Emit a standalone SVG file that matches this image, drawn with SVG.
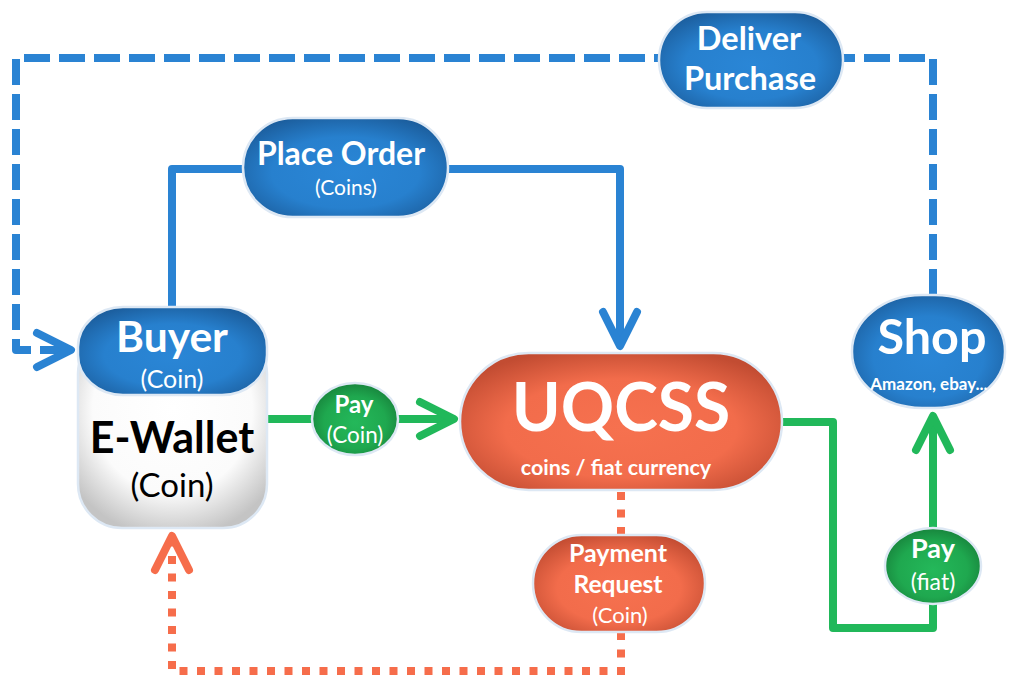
<svg xmlns="http://www.w3.org/2000/svg" width="1009" height="684" viewBox="0 0 1009 684">
<style>
  text { font-family: Lato, "Open Sans", "Liberation Sans", sans-serif; text-anchor: middle; }
  .w { fill: #ffffff; }
  .b { font-weight: bold; }
  .k { fill: #000000; }
  .node { stroke: #dde8f4; stroke-width: 2.5; }
  .cb { fill: none; stroke: #2a83d3; stroke-width: 8; stroke-linejoin: round; }
  .cg { fill: none; stroke: #21b85a; stroke-width: 8; stroke-linejoin: round; }
  .co { fill: none; stroke: #f66d4b; stroke-width: 8; }
</style>
<defs>
  <radialGradient id="gBlue" cx="50%" cy="55%" r="60%">
    <stop offset="0" stop-color="#2a86d6"/>
    <stop offset="0.6" stop-color="#2780ce"/>
    <stop offset="1" stop-color="#1c5f9f"/>
  </radialGradient>
  <radialGradient id="gOrange" cx="50%" cy="55%" r="60%">
    <stop offset="0" stop-color="#f6714f"/>
    <stop offset="0.6" stop-color="#f26c4b"/>
    <stop offset="1" stop-color="#c24c32"/>
  </radialGradient>
  <radialGradient id="gGreen" cx="50%" cy="55%" r="60%">
    <stop offset="0" stop-color="#24b85a"/>
    <stop offset="0.6" stop-color="#1fa84f"/>
    <stop offset="1" stop-color="#167c38"/>
  </radialGradient>
  <radialGradient id="gWhite" cx="50%" cy="40%" r="65%">
    <stop offset="0" stop-color="#ffffff"/>
    <stop offset="0.65" stop-color="#fbfbfb"/>
    <stop offset="1" stop-color="#c4c4c4"/>
  </radialGradient>
  <marker id="arrB" viewBox="-40 -22 46 44" refX="0" refY="0" markerWidth="46" markerHeight="44" orient="auto" markerUnits="userSpaceOnUse">
    <path d="M-34,-17 L0,0 L-34,17" fill="none" stroke="#2a83d3" stroke-width="8" stroke-linecap="round" stroke-linejoin="round"/>
  </marker>
  <marker id="arrG" viewBox="-40 -22 46 44" refX="0" refY="0" markerWidth="46" markerHeight="44" orient="auto" markerUnits="userSpaceOnUse">
    <path d="M-34,-17 L0,0 L-34,17" fill="none" stroke="#21b85a" stroke-width="8" stroke-linecap="round" stroke-linejoin="round"/>
  </marker>
  <marker id="arrO" viewBox="-40 -22 46 44" refX="0" refY="0" markerWidth="46" markerHeight="44" orient="auto" markerUnits="userSpaceOnUse">
    <path d="M-34,-17 L0,0 L-34,17" fill="none" stroke="#f66d4b" stroke-width="8" stroke-linecap="round" stroke-linejoin="round"/>
  </marker>
</defs>

<g id="connectors">
  <path class="cb" d="M933,295 L933,58 L16,58 L16,350 L71,350" stroke-dasharray="26 9" marker-end="url(#arrB)"/>
  <path class="cb" d="M172,308 L172,169 L620,169 L620,346" marker-end="url(#arrB)"/>
  <path class="cg" d="M268,419 L454,419" marker-end="url(#arrG)"/>
  <path class="cg" d="M782,422 L833,422 L833,628 L933,628 L933,416" marker-end="url(#arrG)"/>
  <path class="co" d="M621,492 L621,671 L172,671 L172,536" stroke-dasharray="8 9.5" marker-end="url(#arrO)"/>
</g>

<g id="deliver-purchase">
  <rect class="node" x="659" y="12" width="184" height="96" rx="48" fill="url(#gBlue)"/>
  <text class="w b" x="749" y="50" font-size="32.5">Deliver</text>
  <text class="w b" x="750" y="90" font-size="32.5">Purchase</text>
</g>

<g id="place-order">
  <rect class="node" x="243" y="118" width="205" height="99" rx="49.5" fill="url(#gBlue)"/>
  <text class="w b" x="341" y="165" font-size="32">Place Order</text>
  <text class="w" x="346" y="195" font-size="21">(Coins)</text>
</g>

<g id="buyer-ewallet">
  <rect class="node" x="78" y="330" width="189" height="198" rx="44" fill="url(#gWhite)"/>
  <rect class="node" x="78" y="307" width="189" height="88" rx="45" ry="40" fill="url(#gBlue)"/>
  <text class="w b" x="172" y="352" font-size="42.5">Buyer</text>
  <text class="w" x="172" y="388" font-size="25">(Coin)</text>
  <text class="k b" x="172" y="453" font-size="43">E-Wallet</text>
  <text class="k" x="172" y="497" font-size="33">(Coin)</text>
</g>

<g id="pay-coin">
  <ellipse class="node" cx="355" cy="419" rx="43" ry="36" fill="url(#gGreen)"/>
  <text class="w b" x="354" y="413" font-size="24">Pay</text>
  <text class="w" x="355" y="443" font-size="22.5">(Coin)</text>
</g>

<g id="uqcss">
  <rect class="node" x="460" y="353" width="322" height="137" rx="68.5" fill="url(#gOrange)"/>
  <text class="w b" x="621" y="431" font-size="66">UQCSS</text>
  <text class="w b" x="616" y="475" font-size="21.5">coins / fiat currency</text>
</g>

<g id="payment-request">
  <rect class="node" x="533" y="535" width="172" height="97" rx="48.5" fill="url(#gOrange)"/>
  <text class="w b" x="618" y="562" font-size="25">Payment</text>
  <text class="w b" x="618" y="593" font-size="24.6">Request</text>
  <text class="w" x="620" y="623" font-size="22">(Coin)</text>
</g>

<g id="shop">
  <rect class="node" x="852" y="295" width="153" height="113" rx="70" ry="56" fill="url(#gBlue)"/>
  <text class="w b" x="932" y="354" font-size="48.5">Shop</text>
  <text class="w b" x="929" y="390" font-size="17">Amazon, ebay...</text>
</g>

<g id="pay-fiat">
  <ellipse class="node" cx="933" cy="566" rx="48" ry="38" fill="url(#gGreen)"/>
  <text class="w b" x="933" y="558" font-size="27">Pay</text>
  <text class="w" x="933" y="590" font-size="23">(fiat)</text>
</g>
</svg>
